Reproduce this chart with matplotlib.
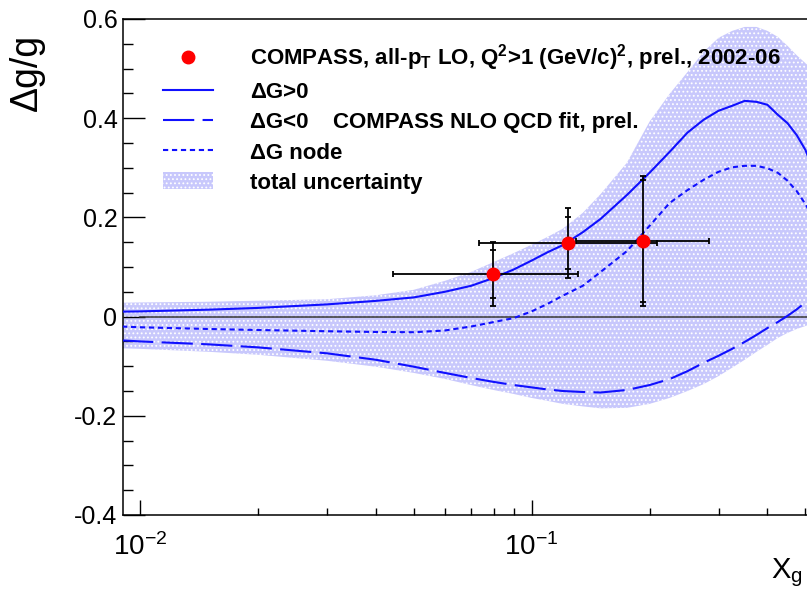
import matplotlib.pyplot as plt
from matplotlib.lines import Line2D
from matplotlib.patches import Patch
from matplotlib.ticker import LogLocator, MultipleLocator

plt.rcParams['font.family'] = ['Liberation Sans', 'DejaVu Sans']
plt.rcParams['mathtext.default'] = 'regular'
plt.rcParams['hatch.linewidth'] = 0.8

# x grid for the fit curves and the uncertainty band
xg = [0.009, 0.01, 0.015, 0.02, 0.03, 0.04, 0.05, 0.06, 0.07, 0.08, 0.09, 0.1,
      0.11, 0.12, 0.135, 0.15, 0.175, 0.2, 0.225, 0.25, 0.275, 0.3, 0.325,
      0.35, 0.375, 0.4, 0.425, 0.45, 0.475, 0.5, 0.53]
dg_pos = [0.010, 0.0105, 0.014, 0.0175, 0.0246, 0.0317, 0.0387, 0.050, 0.062,
          0.078, 0.095, 0.113, 0.130, 0.144, 0.170, 0.197, 0.245, 0.290,
          0.332, 0.371, 0.397, 0.415, 0.425, 0.435, 0.433, 0.427, 0.407,
          0.390, 0.366, 0.336, 0.286]
dg_neg = [-0.048, -0.050, -0.056, -0.062, -0.074, -0.087, -0.101, -0.1135,
          -0.1236, -0.1317, -0.138, -0.1427, -0.147, -0.150, -0.152, -0.153,
          -0.148, -0.138, -0.126, -0.110, -0.093, -0.079, -0.065, -0.051,
          -0.037, -0.023, -0.011, 0.0015, 0.0145, 0.0286, 0.044]
dg_node = [-0.020, -0.0215, -0.025, -0.027, -0.0295, -0.031, -0.0315, -0.028,
           -0.020, -0.011, -0.003, 0.0105, 0.026, 0.042, 0.062, 0.090, 0.132,
           0.183, 0.229, 0.255, 0.276, 0.292, 0.301, 0.304, 0.304, 0.299,
           0.290, 0.274, 0.253, 0.227, 0.191]
band_hi = [0.028, 0.0285, 0.030, 0.032, 0.035, 0.043, 0.054, 0.072, 0.090,
           0.110, 0.128, 0.145, 0.161, 0.177, 0.209, 0.247, 0.310, 0.393,
           0.449, 0.493, 0.534, 0.562, 0.576, 0.584, 0.584, 0.576, 0.564,
           0.546, 0.527, 0.511, 0.493]
band_lo = [-0.064, -0.065, -0.071, -0.077, -0.089, -0.101, -0.1135, -0.1256,
           -0.138, -0.148, -0.156, -0.164, -0.170, -0.176, -0.181, -0.185,
           -0.184, -0.176, -0.164, -0.150, -0.136, -0.120, -0.103, -0.087,
           -0.071, -0.057, -0.043, -0.033, -0.025, -0.019, -0.011]

# COMPASS all-pT points
xp = [0.0795, 0.124, 0.192]
yp = [0.086, 0.148, 0.153]
x_lo = [0.0443, 0.0734, 0.130]
x_hi = [0.1315, 0.2085, 0.284]
err_stat = [0.049, 0.053, 0.123]
err_tot = [0.065, 0.071, 0.131]

fig = plt.figure(figsize=(8.07, 5.93), dpi=100)
ax = fig.add_axes([123 / 807, 78 / 593, 692 / 807, 496 / 593])

blue = '#1010ff'
ax.fill_between(xg, band_lo, band_hi, facecolor='#c8c8fc', edgecolor='white',
                hatch='....', linewidth=0, zorder=1)
ax.plot([0.01, 0.6], [0, 0], color='#333333', lw=1.1, zorder=2)
ax.plot(xg, dg_pos, color=blue, lw=1.5, zorder=3)
ax.plot(xg, dg_neg, color=blue, lw=1.5, dashes=(15, 4), zorder=3)
ax.plot(xg, dg_node, color=blue, lw=1.5, dashes=(2.5, 1.8), zorder=3)

xerr = [[a - b for a, b in zip(xp, x_lo)], [b - a for a, b in zip(xp, x_hi)]]
ax.errorbar(xp, yp, xerr=xerr, yerr=err_tot, fmt='none', ecolor='black',
            elinewidth=1.3, capsize=2.5, capthick=1.3, zorder=4)
ax.errorbar(xp, yp, yerr=err_stat, fmt='none', ecolor='black',
            elinewidth=0, capsize=2.5, capthick=1.3, zorder=4)
ax.plot(xp, yp, 'o', color='red', ms=9, mec='red', zorder=5)

ax.set_xscale('log')
ax.set_xlim(0.00905, 0.529)
ax.set_ylim(-0.4, 0.6)
ax.set_xticks([0.01, 0.1], [r'$10^{-2}$', r'$10^{-1}$'])
ax.xaxis.set_minor_locator(LogLocator(base=10, subs=range(2, 10)))
ax.xaxis.set_minor_formatter(plt.NullFormatter())
ax.set_yticks([-0.4, -0.2, 0, 0.2, 0.4, 0.6],
              ['-0.4', '-0.2', '0', '0.2', '0.4', '0.6'])
ax.yaxis.set_minor_locator(MultipleLocator(0.05))
ax.tick_params(axis='x', which='major', direction='in', length=10.5, width=1,
               labelsize=20, pad=13, top=False)
ax.tick_params(axis='x', which='minor', direction='in', length=5, width=1,
               top=False)
ax.tick_params(axis='y', which='major', direction='in', length=15.5, width=1,
               labelsize=18, pad=4, right=False)
ax.tick_params(axis='y', which='minor', direction='in', length=7, width=1,
               right=False)
for s in ['left', 'bottom', 'top']:
    ax.spines[s].set_linewidth(1.1)
ax.spines['right'].set_visible(False)

fig.text(27 / 807, 1 - 72 / 593, 'Δg/g', rotation=90, fontsize=27,
         ha='center', va='center')
fig.text(771 / 807, 1 - 578 / 593, 'X$_g$', fontsize=21, ha='left',
         va='baseline')

handles = [
    Line2D([], [], ls='none', marker='o', color='red', ms=9),
    Line2D([], [], color=blue, lw=1.5),
    Line2D([], [], color=blue, lw=1.5, dashes=(15, 4)),
    Line2D([], [], color=blue, lw=1.5, dashes=(2.5, 1.8)),
    Patch(facecolor='#c8c8fc', edgecolor='white', hatch='....', lw=0),
]
labels = [
    'COMPASS, all-p$_T$ LO, Q$^2$>1 (GeV/c)$^2$, prel., 2002-06',
    'ΔG>0',
    'ΔG<0    COMPASS NLO QCD fit, prel.',
    'ΔG node',
    'total uncertainty',
]
ax.legend(handles, labels, loc='upper left', bbox_to_anchor=(0.058, 0.953),
          frameon=False, borderpad=0, borderaxespad=0, handlelength=2.25,
          handleheight=0.8, handletextpad=1.67, labelspacing=0.4,
          prop={'size': 16, 'weight': 'bold'})

fig.savefig('out.png', dpi=100)
